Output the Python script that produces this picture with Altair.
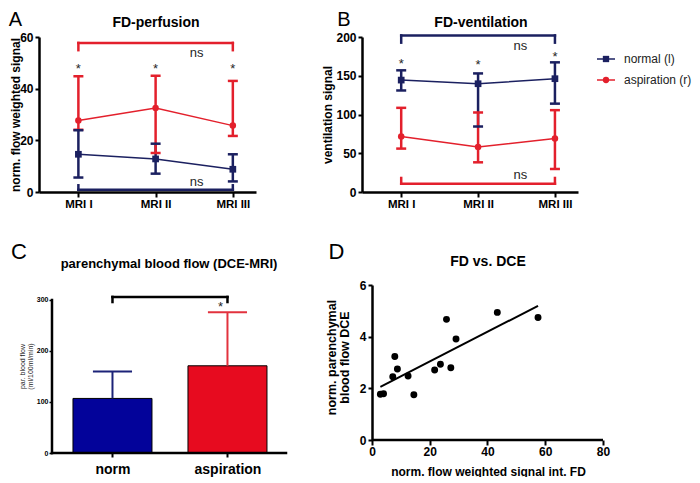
import json
import altair as alt
import pandas as pd

FONT = "Liberation Sans"
NAVY = "#1b2060"
RED = "#e3202c"
BAR_BLUE = "#03039a"
BAR_RED = "#e70b1f"
ERR_BLUE = "#1c2378"
ERR_RED = "#e2323e"
TXT = "#262626"

# ---------------- data ----------------
groups = ["normal (l)", "aspiration (r)"]
mri_labels = ["MRI I", "MRI II", "MRI III"]
mri_pos = [1, 2, 3]

# A: FD-perfusion
perf_normal_mean = [14.6, 12.8, 8.8]
perf_normal_low = [5.6, 7.1, 4.1]
perf_normal_high = [23.9, 18.7, 14.6]
perf_asp_mean = [27.7, 32.5, 25.7]
perf_asp_low = [24.1, 15.1, 21.7]
perf_asp_high = [44.8, 45.0, 43.0]
perf_star_y = [49.0, 49.0, 49.0]
perf_bracket_group = ["aspiration (r)", "normal (l)"]
perf_bracket_y = [57.7, 0.9]
perf_bracket_leg = [54.9, 2.6]
perf_ns_x = [2.53, 2.53]
perf_ns_y = [53.8, 3.9]

# B: FD-ventilation
vent_normal_mean = [144.4, 139.7, 146.2]
vent_normal_low = [131.0, 84.5, 114.0]
vent_normal_high = [157.0, 153.0, 167.3]
vent_asp_mean = [71.5, 58.2, 69.0]
vent_asp_low = [56.0, 38.3, 29.7]
vent_asp_high = [108.6, 102.6, 105.6]
vent_star_y = [170.0, 168.0, 178.5]
vent_bracket_group = ["normal (l)", "aspiration (r)"]
vent_bracket_y = [202.0, 10.7]
vent_bracket_leg = [192.7, 18.1]
vent_ns_x = [2.55, 2.55]
vent_ns_y = [188.0, 21.5]

# C: parenchymal blood flow
dce_groups = ["norm", "aspiration"]
dce_pos = [1, 2]
dce_mean = [107, 171]
dce_upper = [160, 276]
dce_bracket_x = [1, 2]
dce_bracket_y = [306]
dce_bracket_leg = [296]
dce_star_x = [1.94]
dce_star_y = [294]
c_yticks = [0, 100, 200, 300]

# D: FD vs DCE
fd_signal = [2.9, 4.0, 7.2, 7.9, 8.8, 12.5, 14.5, 21.7, 23.7, 25.8, 27.3, 29.1, 43.4, 57.5]
dce_flow = [1.77, 1.79, 2.45, 3.23, 2.75, 2.48, 1.75, 2.71, 2.93, 4.67, 2.80, 3.91, 4.94, 4.74]
d_xticks = [0, 20, 40, 60, 80]
d_yticks = [0, 2, 4, 6]

panel_letters = ["A", "B", "C", "D"]
panel_titles = ["FD-perfusion", "FD-ventilation", "parenchymal blood flow (DCE-MRI)", "FD vs. DCE"]


def text_layer(txt, x, y, size, weight="normal"):
    return alt.Chart(pd.DataFrame({"t": [txt]})).mark_text(
        font=FONT, fontSize=size, fontWeight=weight, color="black",
        align="center", baseline="middle"
    ).encode(text="t:N", x=alt.value(x), y=alt.value(y))


def series_panel(idx, nm, nl, nh, am, al, ah, star_y, br_group, br_y, br_leg,
                 ns_x, ns_y, ymax, yticks, ytitle, ytitle_x, letter_xy, title_xy,
                 width, height, legend=False):
    rows = []
    for g, m, lo, hi in ((groups[0], nm, nl, nh), (groups[1], am, al, ah)):
        for p, mv, lv, hv in zip(mri_pos, m, lo, hi):
            rows.append({"group": g, "pos": p, "mean": mv, "low": lv, "high": hv})
    df = pd.DataFrame(rows)
    xs = alt.Scale(domain=[0.49, 3.3], nice=False, zero=False)
    ys = alt.Scale(domain=[0, ymax], nice=False, zero=True)
    xaxis = alt.Axis(values=mri_pos, labelExpr=f"{json.dumps(mri_labels)}[datum.value - 1]",
                     title=None, domainWidth=2.5, tickWidth=2, tickSize=5, labelPadding=1,
                     labelFontSize=11.5, labelFlush=False)
    yaxis = alt.Axis(values=yticks, title=ytitle, domainWidth=2.5, tickWidth=2, tickSize=4,
                     labelPadding=2, labelFontSize=12, titleFontSize=12, titleAngle=270,
                     titleX=ytitle_x, titleY=height / 2, titleBaseline="middle",
                     titleAlign="center")

    def X(f):
        return alt.X(f"{f}:Q", scale=xs, axis=xaxis)

    def Y(f):
        return alt.Y(f"{f}:Q", scale=ys, axis=yaxis)

    col = alt.Color("group:N", scale=alt.Scale(domain=groups, range=[NAVY, RED]), legend=None)
    base = alt.Chart(df)
    line = base.mark_line(strokeWidth=1.5).encode(x=X("pos"), y=Y("mean"), color=col, detail="group:N")
    err = base.mark_rule(strokeWidth=2.5).encode(x=X("pos"), y=Y("low"), y2="high:Q", color=col)
    cap_lo = base.mark_tick(orient="horizontal", thickness=2.5, size=10, opacity=1).encode(
        x=X("pos"), y=Y("low"), color=col)
    cap_hi = base.mark_tick(orient="horizontal", thickness=2.5, size=10, opacity=1).encode(
        x=X("pos"), y=Y("high"), color=col)
    sq = base.transform_filter(alt.datum.group == groups[0]).mark_square(size=45, opacity=1).encode(
        x=X("pos"), y=Y("mean"), color=col)
    ci = base.transform_filter(alt.datum.group == groups[1]).mark_circle(size=42, opacity=1).encode(
        x=X("pos"), y=Y("mean"), color=col)
    stars = alt.Chart(pd.DataFrame({"pos": mri_pos, "y": star_y})).mark_text(
        text="*", font=FONT, fontSize=13, color=TXT, dy=3.5).encode(x=X("pos"), y=Y("y"))
    br = pd.DataFrame({"group": br_group, "y": br_y, "leg": br_leg,
                       "x1": [mri_pos[0]] * len(br_y), "x2": [mri_pos[-1]] * len(br_y)})
    br_h = alt.Chart(br).mark_rule(strokeWidth=2.5, strokeCap="square").encode(
        x=X("x1"), x2="x2:Q", y=Y("y"), color=col)
    br_v = alt.Chart(br).transform_fold(["x1", "x2"], as_=["end", "xe"]).mark_rule(
        strokeWidth=2.5, strokeCap="square").encode(x=X("xe"), y=Y("y"), y2="leg:Q", color=col)
    ns = alt.Chart(pd.DataFrame({"x": ns_x, "y": ns_y})).mark_text(
        text="ns", font=FONT, fontSize=13, color=TXT).encode(x=X("x"), y=Y("y"))
    main = alt.layer(br_h, br_v, line, err, cap_lo, cap_hi, sq, ci, stars, ns,
                     text_layer(panel_letters[idx], letter_xy[0], letter_xy[1], 20),
                     text_layer(panel_titles[idx], title_xy[0], title_xy[1], 14, "bold"))
    if not legend:
        return main.properties(width=width, height=height)

    # legend (line + marker + label per group) to the right of the plot
    leg_df = pd.DataFrame({"group": groups})
    leg_y = alt.Y("group:N", scale=alt.Scale(type="point", domain=groups, range=[22, 43], padding=0),
                  axis=None)
    leg_line = alt.Chart(leg_df).mark_rule(strokeWidth=1.5).encode(
        x=alt.value(width + 19), x2=alt.value(width + 37), y=leg_y, color=col)
    leg_sq = alt.Chart(leg_df).transform_filter(alt.datum.group == groups[0]).mark_square(
        size=40, opacity=1).encode(x=alt.value(width + 28), y=leg_y, color=col)
    leg_ci = alt.Chart(leg_df).transform_filter(alt.datum.group == groups[1]).mark_circle(
        size=40, opacity=1).encode(x=alt.value(width + 28), y=leg_y, color=col)
    leg_txt = alt.Chart(leg_df).mark_text(
        align="left", baseline="middle", font=FONT, fontSize=12, color="#222").encode(
        x=alt.value(width + 46), y=leg_y, text="group:N")
    leg_layer = alt.layer(leg_line, leg_sq, leg_ci, leg_txt)
    return alt.layer(main, leg_layer).resolve_scale(y="independent").properties(
        width=width, height=height)


panel_a = series_panel(0, perf_normal_mean, perf_normal_low, perf_normal_high,
                       perf_asp_mean, perf_asp_low, perf_asp_high, perf_star_y,
                       perf_bracket_group, perf_bracket_y, perf_bracket_leg,
                       perf_ns_x, perf_ns_y, 60, [0, 20, 40, 60],
                       "norm. flow weighted signal", -24, (-23.5, -17), (117, -14), 217, 155)
panel_b = series_panel(1, vent_normal_mean, vent_normal_low, vent_normal_high,
                       vent_asp_mean, vent_asp_low, vent_asp_high, vent_star_y,
                       vent_bracket_group, vent_bracket_y, vent_bracket_leg,
                       vent_ns_x, vent_ns_y, 200, [0, 50, 100, 150, 200],
                       "ventilation signal", -35, (-18, -17), (119, -14), 216, 155, legend=True)

# ---------------- C ----------------
BAR_HALF = 0.3435
CAP_HALF = 0.17
C_X0, C_X1 = 0.474, 2.509      # visible x-axis extent (axis line)
c_df = pd.DataFrame({"group": dce_groups, "pos": dce_pos, "mean": dce_mean, "upper": dce_upper})
c_xs = alt.Scale(domain=[0.361, C_X1], nice=False, zero=False)
c_ys = alt.Scale(domain=[0, 329.4], nice=False)
c_xaxis = alt.Axis(values=dce_pos, labelExpr=f"{json.dumps(dce_groups)}[datum.value - 1]",
                   title=None, domain=False, tickWidth=2, tickSize=4, labelPadding=5,
                   labelFontSize=14, labelFlush=False)
c_yaxis = alt.Axis(values=c_yticks, title=["par. blood flow", "(ml/100ml/min)"],
                   domain=False, offset=-13, tickWidth=1.5, tickSize=3, labelPadding=1,
                   labelFontSize=7, titleFontSize=7, titleFontWeight="normal", titleColor="#222",
                   titleAngle=270, titleX=-30, titleY=81, titleBaseline="middle",
                   titleAlign="center", titleLineHeight=8)


def CX(f):
    return alt.X(f"{f}:Q", scale=c_xs, axis=c_xaxis)


def CY(f):
    return alt.Y(f"{f}:Q", scale=c_ys, axis=c_yaxis)


is_norm = alt.datum.group == dce_groups[0]
c_base = alt.Chart(c_df)
bars = c_base.transform_calculate(
    x0=f"datum.pos - {BAR_HALF}", x1=f"datum.pos + {BAR_HALF}", zero="0"
).mark_bar(stroke="black", strokeWidth=1).encode(
    x=CX("x0"), x2="x1:Q", y=CY("mean"), y2="zero:Q",
    fill=alt.condition(is_norm, alt.value(BAR_BLUE), alt.value(BAR_RED)))
ecol = alt.condition(is_norm, alt.value(ERR_BLUE), alt.value(ERR_RED))
c_err = c_base.mark_rule(strokeWidth=2).encode(x=CX("pos"), y=CY("mean"), y2="upper:Q", stroke=ecol)
c_cap = c_base.transform_calculate(
    cx0=f"datum.pos - {CAP_HALF}", cx1=f"datum.pos + {CAP_HALF}"
).mark_rule(strokeWidth=2).encode(x=CX("cx0"), x2="cx1:Q", y=CY("upper"), stroke=ecol)
c_axes = pd.DataFrame({"x0": [C_X0], "x1": [C_X1], "y0": [c_yticks[0]], "y1": [c_yticks[-1]]})
c_xline = alt.Chart(c_axes).mark_rule(strokeWidth=2.5, color="black", strokeCap="square").encode(
    x=CX("x0"), x2="x1:Q", y=CY("y0"))
c_yline = alt.Chart(c_axes).mark_rule(strokeWidth=2.5, color="black", strokeCap="square").encode(
    x=CX("x0"), y=CY("y0"), y2="y1:Q")
c_br = pd.DataFrame({"x1": [dce_bracket_x[0]], "x2": [dce_bracket_x[1]],
                     "y": dce_bracket_y, "leg": dce_bracket_leg})
c_br_h = alt.Chart(c_br).mark_rule(strokeWidth=2.5, strokeCap="square", color="black").encode(
    x=CX("x1"), x2="x2:Q", y=CY("y"))
c_br_v = alt.Chart(c_br).transform_fold(["x1", "x2"], as_=["end", "xe"]).mark_rule(
    strokeWidth=2.5, strokeCap="square", color="black").encode(x=CX("xe"), y=CY("y"), y2="leg:Q")
c_star = alt.Chart(pd.DataFrame({"x": dce_star_x, "y": dce_star_y})).mark_text(
    text="*", font=FONT, fontSize=13, color=TXT, dy=3.5).encode(x=CX("x"), y=CY("y"))
panel_c = alt.layer(
    bars, c_err, c_cap, c_xline, c_yline, c_br_h, c_br_v, c_star,
    text_layer(panel_letters[2], -20, -33, 22),
    text_layer(panel_titles[2], 130, -21, 13, "bold"),
).properties(width=247, height=168)

# ---------------- D ----------------
d_df = pd.DataFrame({"fd": fd_signal, "dce": dce_flow})
d_xs = alt.Scale(domain=[-3.46, d_xticks[-1]], nice=False, zero=False)
d_ys = alt.Scale(domain=[0, 6], nice=False)
d_xaxis = alt.Axis(values=d_xticks, title="norm. flow weighted signal int. FD",
                   domain=False, tickWidth=2, tickSize=5, labelPadding=1, labelFontSize=12,
                   titleFontSize=12, titleY=31, titleX=126, titleBaseline="middle",
                   labelFlush=False)
d_yaxis = alt.Axis(values=d_yticks, title=["norm. parenchymal", "blood flow DCE"],
                   domainWidth=2.5, offset=-10, tickWidth=2, tickSize=4, labelPadding=2,
                   labelFontSize=12, titleFontSize=12.5, titleAngle=270, titleX=-41, titleY=72,
                   titleBaseline="middle", titleAlign="center", titleLineHeight=13.5)
d_pts = alt.Chart(d_df).mark_circle(size=48, color="black", opacity=1).encode(
    x=alt.X("fd:Q", scale=d_xs, axis=d_xaxis), y=alt.Y("dce:Q", scale=d_ys, axis=d_yaxis))
d_reg = alt.Chart(d_df).transform_regression("fd", "dce").mark_line(
    color="black", strokeWidth=2).encode(
    x=alt.X("fd:Q", scale=d_xs, axis=d_xaxis), y=alt.Y("dce:Q", scale=d_ys, axis=d_yaxis))
d_axes = pd.DataFrame({"x0": [d_xticks[0]], "x1": [d_xticks[-1]], "y0": [d_yticks[0]]})
d_xline = alt.Chart(d_axes).mark_rule(strokeWidth=2.5, color="black").encode(
    x=alt.X("x0:Q", scale=d_xs, axis=d_xaxis), x2="x1:Q",
    y=alt.Y("y0:Q", scale=d_ys, axis=d_yaxis))
panel_d = alt.layer(
    d_xline, d_reg, d_pts,
    text_layer(panel_letters[3], -25.5, -33, 22),
    text_layer(panel_titles[3], 126, -23, 14, "bold"),
).properties(width=241, height=155)

# ---------------- layout ----------------
chart = alt.concat(
    panel_a, panel_b, panel_c, panel_d,
    columns=2, spacing={"row": 93, "column": 76},
).properties(
    align="each", bounds="flush",
    padding={"left": 0, "top": 2, "right": 0, "bottom": 0},
).configure_view(stroke=None).configure_axis(
    labelFont=FONT, titleFont=FONT, labelFontWeight="bold", titleFontWeight="bold",
    labelColor="black", titleColor="black", domainColor="black", tickColor="black",
    grid=False,
)

chart.save("out.html", embed_options={"renderer": "svg", "actions": False})
